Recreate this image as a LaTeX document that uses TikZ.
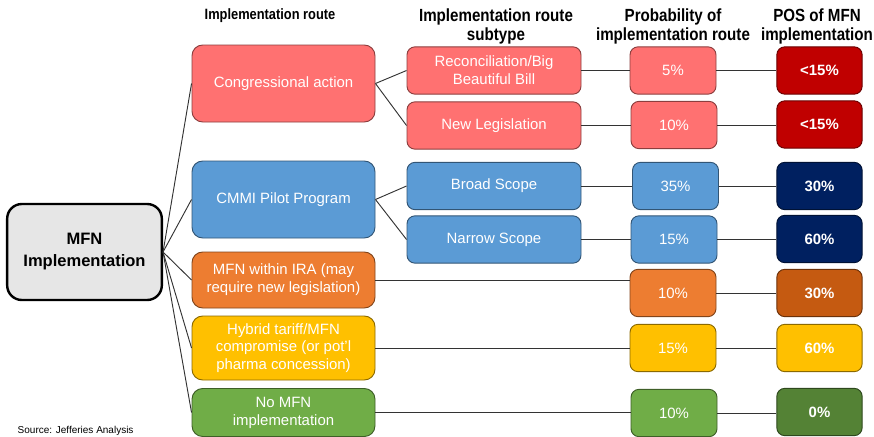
\documentclass[tikz,border=0pt]{standalone}
\usepackage{fontspec}
\setmainfont{Liberation Sans}
\newfontfamily\headfont[FakeStretch=0.86]{Liberation Sans}
\usetikzlibrary{calc}

\definecolor{cRed}{HTML}{FF7171}
\definecolor{cRedDk}{HTML}{C00000}
\definecolor{cBlue}{HTML}{5B9BD5}
\definecolor{cNavy}{HTML}{002060}
\definecolor{cOrange}{HTML}{ED7D31}
\definecolor{cOrangeDk}{HTML}{C55A11}
\definecolor{cYellow}{HTML}{FFC000}
\definecolor{cGreen}{HTML}{70AD47}
\definecolor{cGreenDk}{HTML}{548235}
\definecolor{cRoot}{HTML}{E6E6E6}

\begin{document}
\begin{tikzpicture}[x=0.75pt,y=-0.75pt,
  box/.style={rectangle, rounded corners=6pt, draw=#1!55!black, fill=#1,
    line width=0.7pt, text=white, align=center, inner sep=0pt,
    font=\fontsize{11.2pt}{13.4pt}\selectfont},
  route/.style={box=#1, minimum width=137.25pt, rounded corners=8pt},
  subtype/.style={box=#1, minimum width=130.5pt, minimum height=35.5pt},
  prob/.style={box=#1, minimum width=64.5pt, minimum height=35.5pt},
  pos/.style={box=#1, minimum width=64pt, minimum height=35.5pt,
    font=\fontsize{11.2pt}{13.4pt}\selectfont\bfseries},
  head/.style={align=center, inner sep=0pt, anchor=north,
    font=\headfont\bfseries\fontsize{11.2pt}{14.2pt}\selectfont},
  bighead/.style={head, font=\headfont\bfseries\fontsize{13.2pt}{14.4pt}\selectfont},
  link/.style={draw=black!80, line width=0.7pt}]

\useasboundingbox (0,0) rectangle (874,436);

% column headings
\node[head] (h1) at (270,8) {Implementation route};
\node[bighead] (h2) at (496,8) {Implementation route\\subtype};
\node[bighead] (h3) at (673,8) {Probability of\\implementation route};
\node[bighead] (h4) at (817,8) {POS of MFN\\implementation};

% root
\node[rectangle, rounded corners=11pt, draw=black, line width=1.8pt, fill=cRoot,
  minimum width=116pt, minimum height=72pt, align=center,
  font=\fontsize{12.4pt}{16.5pt}\selectfont\bfseries] (root) at (84.5,252)
  {MFN\\Implementation};

% implementation routes
\node[route=cRed, minimum height=57.75pt] (cong) at (283.5,83.5) {Congressional action};
\node[route=cBlue, minimum height=57.75pt] (cmmi) at (283.5,199.5) {CMMI Pilot Program};
\node[route=cOrange, minimum height=42pt] (ira) at (283.5,280) {MFN within IRA (may\\require new legislation)};
\node[route=cYellow, minimum height=48pt] (hyb) at (283.5,348) {Hybrid tariff/MFN\\compromise (or pot'l\\pharma concession)};
\node[route=cGreen, minimum height=36pt] (none) at (283.5,412.5) {No MFN\\implementation};

% subtypes
\node[subtype=cRed] (recon) at (494,70.5) {Reconciliation/Big\\Beautiful Bill};
\node[subtype=cRed] (newleg) at (494,125.5) {New Legislation};
\node[subtype=cBlue] (broad) at (494,186) {Broad Scope};
\node[subtype=cBlue] (narrow) at (494,239.5) {Narrow Scope};

% probabilities
\node[prob=cRed] (p1) at (673,70.5) {5\%};
\node[prob=cRed] (p2) at (674,125) {10\%};
\node[prob=cBlue] (p3) at (675.5,186) {35\%};
\node[prob=cBlue] (p4) at (674,239.5) {15\%};
\node[prob=cOrange] (p5) at (673,293) {10\%};
\node[prob=cYellow] (p6) at (673,348) {15\%};
\node[prob=cGreen] (p7) at (674,413) {10\%};

% probability of success
\node[pos=cRedDk] (s1) at (819.5,70.5) {<15\%};
\node[pos=cRedDk] (s2) at (819.5,124.5) {<15\%};
\node[pos=cNavy] (s3) at (819.5,186) {30\%};
\node[pos=cNavy] (s4) at (819.5,239) {60\%};
\node[pos=cOrangeDk] (s5) at (819.5,293) {30\%};
\node[pos=cYellow] (s6) at (819.5,348) {60\%};
\node[pos=cGreenDk] (s7) at (819.5,412) {0\%};

% connectors
\foreach \r in {cong,cmmi,ira,hyb,none}
  \draw[link] (root.east) -- (\r.west);
\draw[link] (cong.east) -- (recon.west);
\draw[link] (cong.east) -- (newleg.west);
\draw[link] (cmmi.east) -- (broad.west);
\draw[link] (cmmi.east) -- (narrow.west);
\draw[link] (recon.east) -- (recon.east -| p1.west);
\draw[link] (newleg.east) -- (newleg.east -| p2.west);
\draw[link] (broad.east) -- (broad.east -| p3.west);
\draw[link] (narrow.east) -- (narrow.east -| p4.west);
\draw[link] (ira.east) -- (ira.east -| p5.west);
\draw[link] (hyb.east) -- (hyb.east -| p6.west);
\draw[link] (none.east) -- (none.east -| p7.west);
\foreach \i in {1,...,7}
  \draw[link] (p\i.east) -- (p\i.east -| s\i.west);

% footnote
\node[anchor=base west, font=\fontsize{7.5pt}{9pt}\selectfont] (src) at (13,433) {Source: Jefferies Analysis};
\end{tikzpicture}
\end{document}
